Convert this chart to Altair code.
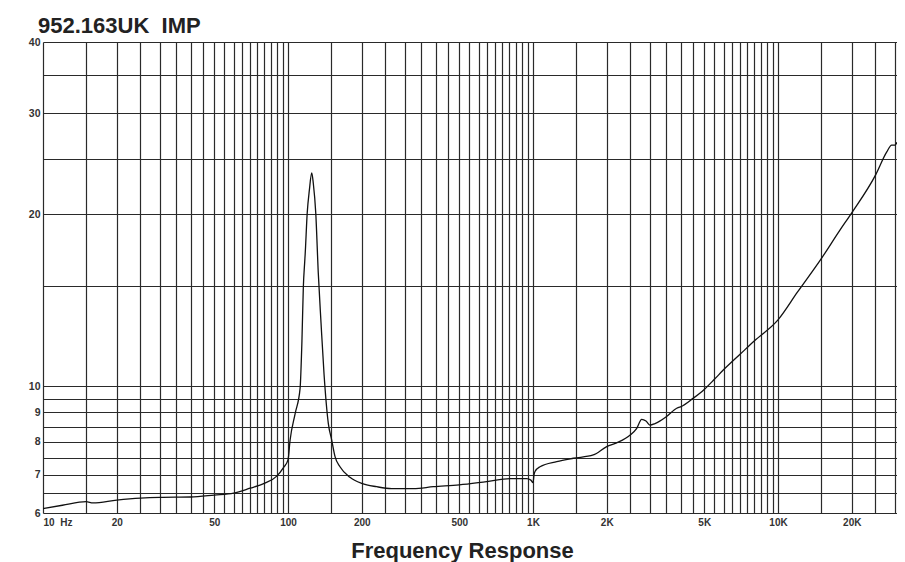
import altair as alt
import pandas as pd

# impedance curve (Hz, ohm)
freq = [10, 12, 15, 16, 20, 25, 30, 40, 50, 60, 70, 80, 90, 96, 100, 102, 107, 112,
        114, 115.5, 117, 117.5, 119.8, 122.2, 125, 126.9, 129.8, 132.9, 136.4, 140.3,
        146.1, 150.8, 155.6, 163, 179, 200, 230, 265, 325, 392, 500, 647, 806, 943,
        980, 1000, 1010, 1019, 1068, 1250, 1461, 1762, 2000, 2196, 2500, 2651, 2778,
        2892, 3000, 3147, 3500, 3859, 4000, 4500, 5000, 5500, 5979, 7000, 8000, 10000,
        12000, 15000, 17900, 20000, 25000, 27800, 29100, 30000, 30600]
imp = [6.11, 6.19, 6.28, 6.25, 6.32, 6.37, 6.39, 6.40, 6.45, 6.50, 6.63, 6.76, 6.96,
       7.21, 7.43, 8.05, 8.96, 9.9, 12.0, 14.9, 16.5, 17.0, 20.1, 22.0, 23.6, 22.6,
       20.1, 15.8, 12.9, 10.5, 8.6, 8.05, 7.53, 7.23, 6.93, 6.76, 6.67, 6.62, 6.62,
       6.67, 6.72, 6.81, 6.89, 6.89, 6.85, 6.78, 7.0, 7.09, 7.23, 7.38, 7.48, 7.58,
       7.84, 7.96, 8.22, 8.44, 8.75, 8.69, 8.55, 8.6, 8.84, 9.15, 9.2, 9.52, 9.87,
       10.28, 10.67, 11.37, 12.0, 13.06, 14.6, 16.7, 18.75, 20.1, 23.4, 25.7, 26.4,
       26.4, 26.7]

# grid positions and tick labels
x_grid = (list(range(10, 100, 5)) + list(range(100, 1000, 50))
          + list(range(1000, 10000, 500)) + [10000, 15000, 20000, 25000, 30000])
x_label_vals = [10, 20, 50, 100, 200, 500, 1000, 2000, 5000, 10000, 20000]
x_label_txt = ["10\u00a0\u00a0Hz", "20", "50", "100", "200", "500", "1K", "2K", "5K", "10K", "20K"]
y_grid = [6, 6.5, 7, 7.5, 8, 8.5, 9, 9.5, 10, 15, 20, 25, 30, 35, 40]
y_label_vals = [6, 7, 8, 9, 10, 20, 30, 40]

df = pd.DataFrame({"f": freq, "z": imp})

x_expr = " : ".join(
    f"datum.value == {v} ? '{t}'" for v, t in zip(x_label_vals, x_label_txt)
) + " : ''"
y_expr = "indexof([" + ",".join(str(v) for v in y_label_vals) + "], datum.value) >= 0 ? datum.value : ''"

FONT = "Liberation Sans"
GRID = "#2a2a2a"

chart = alt.Chart(df).mark_line(
    color="#111111", strokeWidth=1.3, clip=True, interpolate="monotone"
).encode(
    x=alt.X(
        "f:Q",
        scale=alt.Scale(type="log", domain=[10, 30600], nice=False),
        axis=alt.Axis(
            values=x_grid, labelExpr=x_expr, grid=True, gridColor=GRID, gridWidth=1.2,
            gridOpacity=1, tickSize=0, domain=False, labelOverlap=False,
            labelFont=FONT, labelFontSize=10, labelFontWeight="bold", labelColor="#333333",
            labelPadding=4,
            title="Frequency Response", titleFont=FONT, titleFontSize=22,
            titleFontWeight="bold", titleColor="#222222", titleX=419, titleY=44,
            titleBaseline="alphabetic", titleAlign="center",
        ),
    ),
    y=alt.Y(
        "z:Q",
        scale=alt.Scale(type="log", domain=[6, 40], nice=False),
        axis=alt.Axis(
            values=y_grid, labelExpr=y_expr, grid=True, gridColor=GRID, gridWidth=1.2,
            gridOpacity=1, tickSize=0, domain=False, labelOverlap=False,
            labelFont=FONT, labelFontSize=10.5, labelFontWeight="bold", labelColor="#333333",
            labelPadding=3, title=None,
        ),
    ),
).properties(
    width=854,
    height=471,
    autosize=alt.AutoSizeParams(type="none"),
    padding={"left": 35, "top": 34, "right": 0, "bottom": 50},
    title=alt.TitleParams(
        "952.163UK\u00a0\u00a0IMP", anchor="start", frame="group", font=FONT,
        fontSize=22, fontWeight="bold", color="#222222", dx=-5, dy=22, offset=4,
        baseline="alphabetic",
    ),
).configure_view(stroke=None)

chart.save("out.html", embed_options={"renderer": "svg", "actions": False})
